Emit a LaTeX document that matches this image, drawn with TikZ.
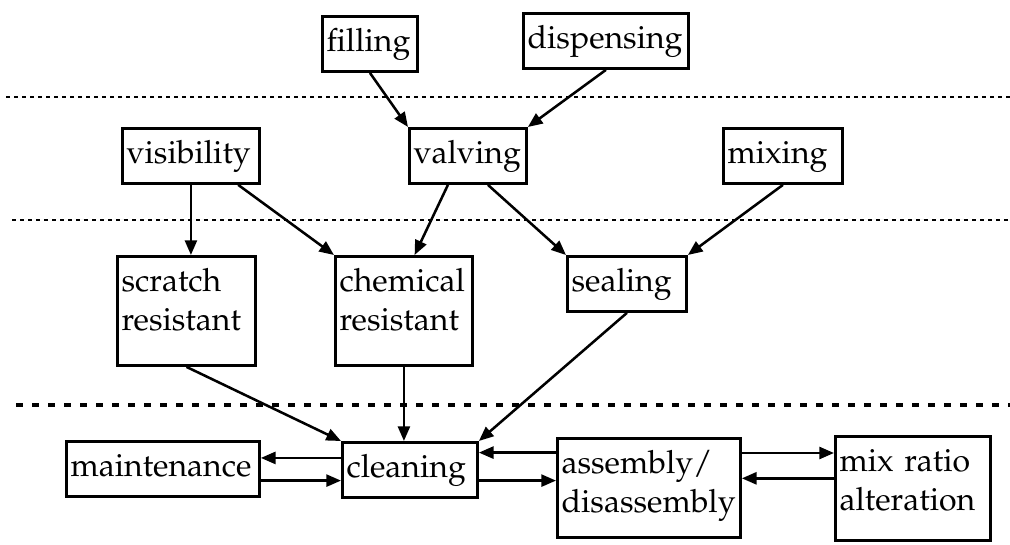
\documentclass[tikz,border=0pt]{standalone}
\usepackage[T1]{fontenc}
\usepackage{mathpazo}
\usetikzlibrary{arrows.meta}

\begin{document}
\begin{tikzpicture}[
    x=0.75pt, y=-0.75pt,
    block/.style={draw, line width=2.4pt, anchor=north west, inner xsep=3pt, inner ysep=0pt,
        align=left, font=\fontsize{24}{29}\selectfont, text height=26.5pt, text depth=14.5pt},
    arrow/.style={-{Triangle[length=11pt, width=9pt]}, line width=1.9pt},
    level/.style={dash pattern=on 3pt off 3pt, line width=1.8pt},
    base/.style={dash pattern=on 5pt off 7pt, line width=3pt}
]
\useasboundingbox (0,0) rectangle (1010,545);

% === LEVEL SEPARATORS ===
\draw[level] (6,97) -- (1010,97);
\draw[level] (12,220) -- (1010,220);
\draw[base] (16,405) -- (1010,405);

% === TOP ROW ===
\node[block, text width=65pt] (filling) at (321,15) {filling};
\node[block, text width=117.5pt] (dispensing) at (522,12) {dispensing};

% === SECOND ROW ===
\node[block, text width=96.5pt] (visibility) at (121,127) {visibility};
\node[block, text width=81.5pt] (valving) at (408,127) {valving};
\node[block, text width=83pt] (mixing) at (722,127) {mixing};

% === THIRD ROW ===
\node[block, text width=97.25pt, text depth=55pt] (scratch) at (116,255) {scratch\\resistant};
\node[block, text width=96.5pt, text depth=55pt] (chemical) at (334,255) {chemical\\resistant};
\node[block, text width=83pt] (sealing) at (566,255) {sealing};

% === BOTTOM ROW ===
\node[block, text width=138.5pt] (maintenance) at (65,440) {maintenance};
\node[block, text width=95pt] (cleaning) at (341,441) {cleaning};
\node[block, text width=131pt, text depth=47.5pt] (assembly) at (556,437) {assembly/\\disassembly};
\node[block, text width=110pt, text depth=51.5pt] (mixratio) at (834,435) {mix ratio\\alteration};

% Downward links
\draw[arrow] (filling.south) -- (valving.north west);
\draw[arrow] (dispensing.south) -- (valving.north east);
\draw[arrow] (visibility.south) -- (visibility.south |- scratch.north);
\draw[arrow] ([xshift=-17pt]visibility.south east) -- (chemical.north west);
\draw[arrow] ([xshift=-15pt]valving.south) -- ([xshift=8pt]chemical.north);
\draw[arrow] ([xshift=15pt]valving.south) -- (sealing.north west);
\draw[arrow] (mixing.south) -- (sealing.north east);
\draw[arrow] (scratch.south) -- (cleaning.north west);
\draw[arrow] (chemical.south) -- (chemical.south |- cleaning.north);
\draw[arrow] (sealing.south) -- (cleaning.north east);

% Two-way links along the bottom
\draw[arrow] ([yshift=9pt]cleaning.west) -- ([yshift=9pt]cleaning.west -| maintenance.east);
\draw[arrow] ([yshift=-8pt]cleaning.west -| maintenance.east) -- ([yshift=-8pt]cleaning.west);
\draw[arrow] ([yshift=13pt]cleaning.east -| assembly.west) -- ([yshift=13pt]cleaning.east);
\draw[arrow] ([yshift=-8pt]cleaning.east) -- ([yshift=-8pt]cleaning.east -| assembly.west);
\draw[arrow] ([yshift=-12pt]assembly.north east) -- ([yshift=-12pt]assembly.north east -| mixratio.west);
\draw[arrow] ([yshift=-31pt]assembly.north east -| mixratio.west) -- ([yshift=-31pt]assembly.north east);

\end{tikzpicture}
\end{document}
